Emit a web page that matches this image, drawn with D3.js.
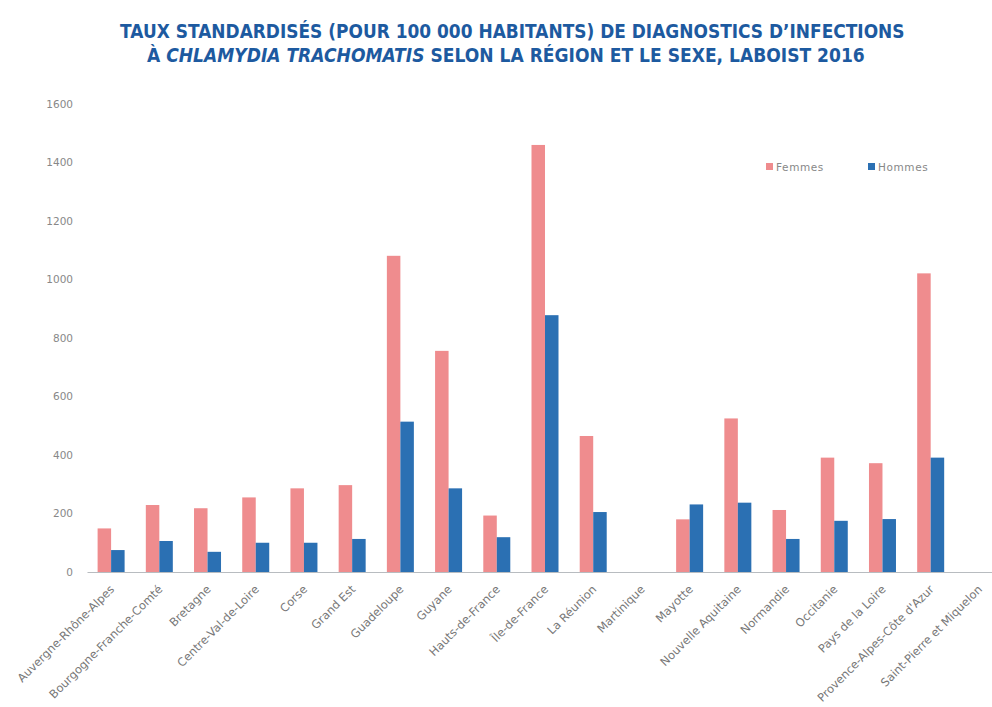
<!DOCTYPE html>
<html>
<head>
<meta charset="utf-8">
<script src="https://cdn.jsdelivr.net/npm/d3@7"></script>
<style>
  html, body { margin: 0; padding: 0; background: #fff; }
  svg { display: block; }
</style>
</head>
<body>
<svg id="chart" width="992" height="707"></svg>
<script>
const regions = ["Auvergne-Rhône-Alpes","Bourgogne-Franche-Comté","Bretagne","Centre-Val-de-Loire","Corse","Grand Est","Guadeloupe","Guyane","Hauts-de-France","Île-de-France","La Réunion","Martinique","Mayotte","Nouvelle Aquitaine","Normandie","Occitanie","Pays de la Loire","Provence-Alpes-Côte d'Azur","Saint-Pierre et Miquelon"];
const femmes = [149, 229, 218, 255, 286, 297, 1081, 756, 193, 1460, 465, null, 180, 525, 212, 391, 372, 1021, null];
const hommes = [75, 106, 69, 100, 100, 113, 514, 286, 119, 878, 205, null, 231, 237, 113, 175, 181, 391, null];
const seriesNames = ["Femmes", "Hommes"];
const yTicks = [0, 200, 400, 600, 800, 1000, 1200, 1400, 1600];

const colors = { Femmes: "#ef8c8e", Hommes: "#2b70b3" };
const svg = d3.select("#chart");
const fontAxis = "'DejaVu Sans', sans-serif";

const x0 = d3.scaleBand().domain(regions).range([87, 1003]).paddingInner(0.44).paddingOuter(0.22);
const x1 = d3.scaleBand().domain(seriesNames).range([0, x0.bandwidth()]).padding(0);
const y = d3.scaleLinear().domain([0, 1600]).range([572, 104]);

// Title: each line scaled horizontally to the reference width
function titleLine(xStart, yBase, targetW, build) {
  const g = svg.append("g");
  const t = g.append("text").attr("x", 0).attr("y", 0)
    .attr("font-family", "'DejaVu Sans', sans-serif").attr("font-weight", "bold")
    .attr("font-size", 20).attr("fill", "#1d5aa0");
  build(t);
  const w = t.node().getComputedTextLength();
  g.attr("transform", `translate(${xStart},${yBase}) scale(${targetW / w},1)`);
}
titleLine(120, 38, 785, t => t.text("TAUX STANDARDISÉS (POUR 100 000 HABITANTS) DE DIAGNOSTICS D’INFECTIONS"));
titleLine(147, 62, 718, t => {
  t.append("tspan").text("À ");
  t.append("tspan").attr("font-style", "italic").text("CHLAMYDIA TRACHOMATIS");
  t.append("tspan").text(" SELON LA RÉGION ET LE SEXE, LABOIST 2016");
});

// Y axis (labels only)
const yAxis = d3.axisLeft(y).tickValues(yTicks).tickSize(0).tickPadding(0).tickFormat(d3.format("d"));
const gy = svg.append("g").attr("transform", "translate(73,0)").call(yAxis);
gy.select(".domain").remove();
gy.selectAll("text").attr("font-family", fontAxis).attr("font-size", 10.5).attr("fill", "#888");

// Bars
const groups = svg.append("g").selectAll("g").data(regions).join("g")
  .attr("transform", d => `translate(${x0(d)},0)`);
groups.selectAll("rect")
  .data((d, i) => [{ s: "Femmes", v: femmes[i] }, { s: "Hommes", v: hommes[i] }].filter(e => e.v != null))
  .join("rect")
  .attr("x", d => x1(d.s))
  .attr("width", x1.bandwidth())
  .attr("y", d => y(d.v))
  .attr("height", d => y(0) - y(d.v))
  .attr("fill", d => colors[d.s]);

// X axis
const xAxis = d3.axisBottom(x0).tickSize(0).tickPadding(0);
const gx = svg.append("g").attr("transform", "translate(0,572)").call(xAxis);
gx.select(".domain").attr("stroke", "#b8bcc0").attr("stroke-width", 1.2);
gx.selectAll("text")
  .attr("font-family", fontAxis).attr("font-size", 11.5).attr("fill", "#777")
  .attr("text-anchor", "end")
  .attr("dy", 0)
  .attr("transform", "translate(4,18) rotate(-45)");

// Legend
const legend = svg.append("g").attr("font-family", fontAxis).attr("font-size", 10.5).attr("fill", "#888");
const legX = [766, 868];
seriesNames.forEach((s, i) => {
  legend.append("rect").attr("x", legX[i]).attr("y", 163).attr("width", 7).attr("height", 7).attr("fill", colors[s]);
  legend.append("text").attr("x", legX[i] + 10).attr("y", 170.5).attr("letter-spacing", 0.6).text(s);
});
</script>
</body>
</html>
